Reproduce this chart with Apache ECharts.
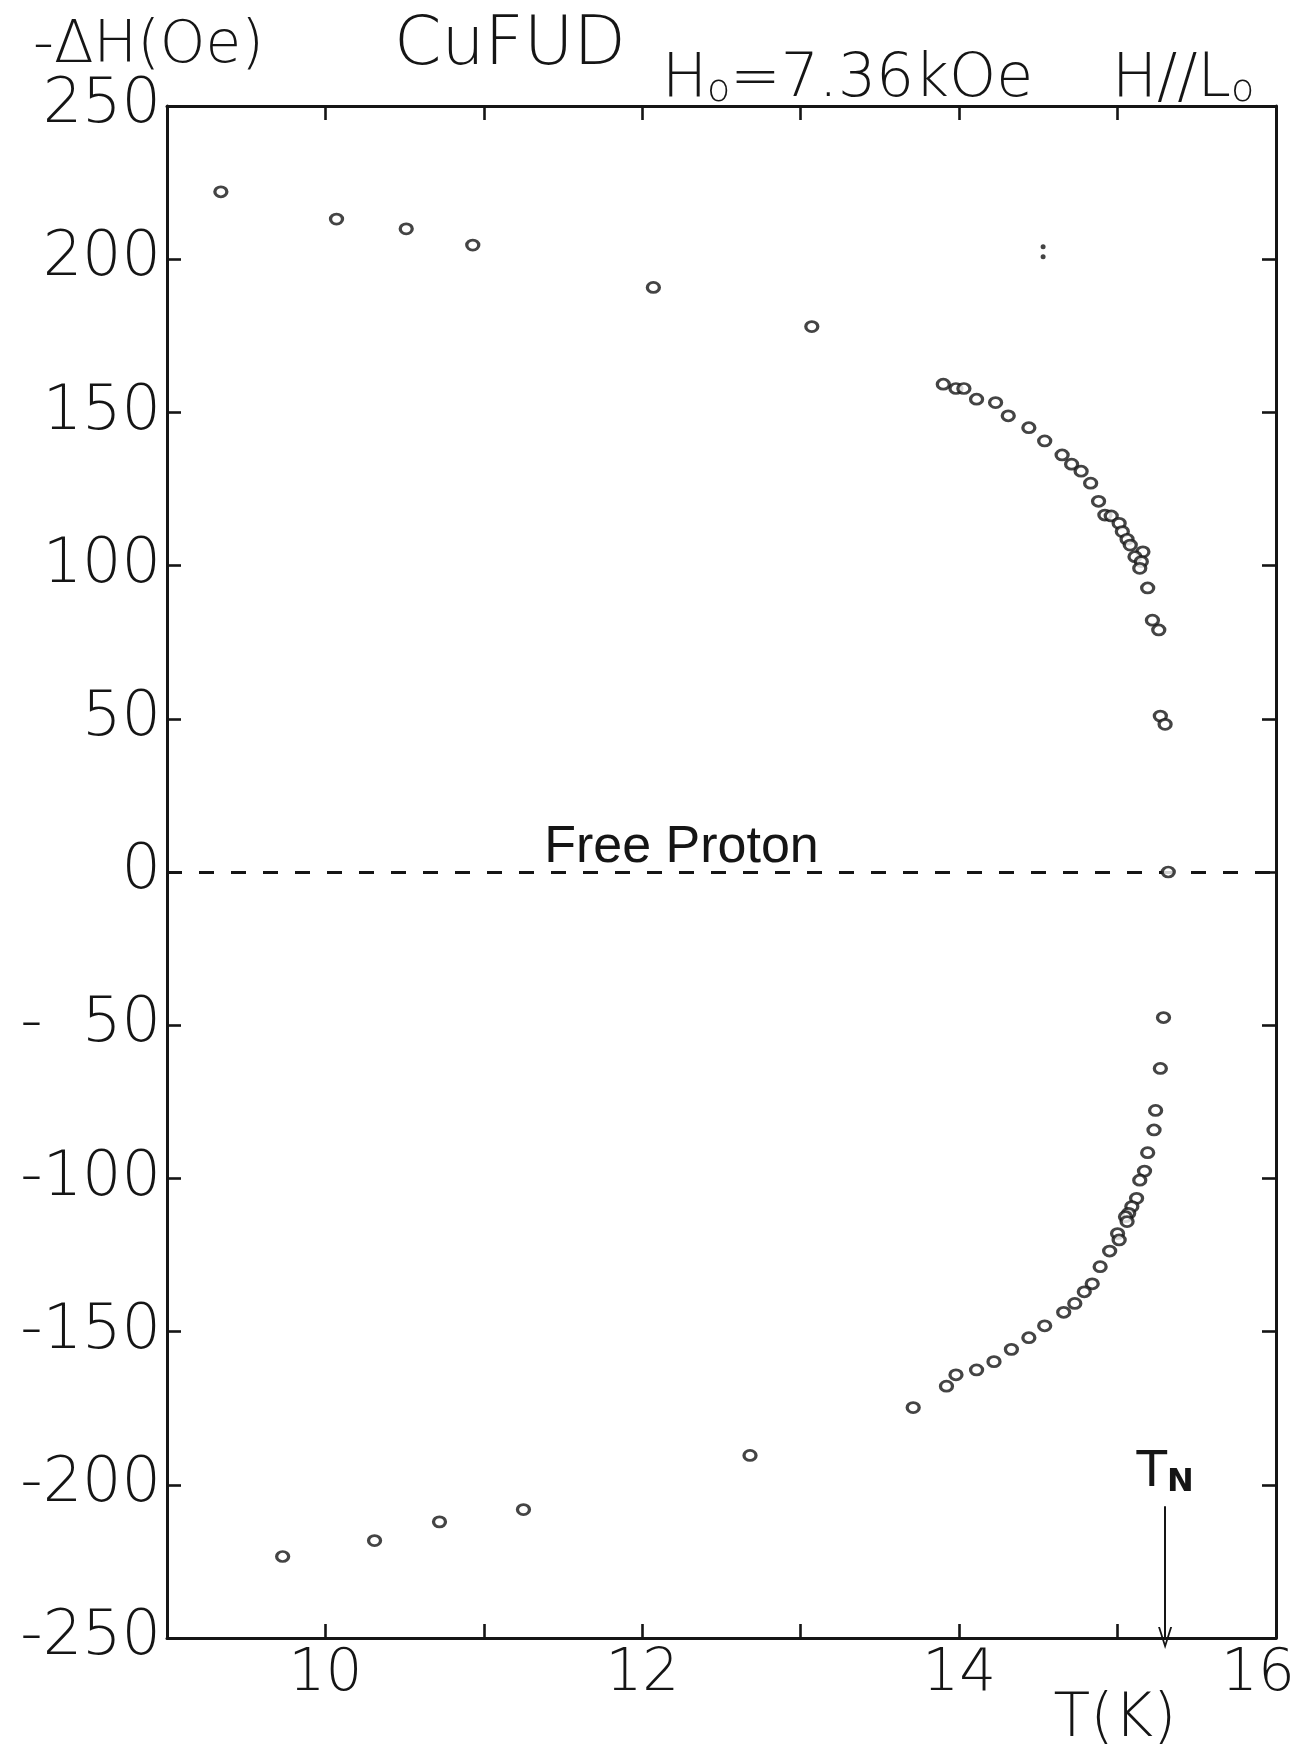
<!DOCTYPE html>
<html>
<head>
<meta charset="utf-8">
<title>CuFUD -ΔH vs T</title>
<script src="https://cdn.jsdelivr.net/npm/echarts@6/dist/echarts.min.js"></script>
<style>
html, body { margin: 0; padding: 0; background: #fff; }
#chart { width: 1306px; height: 1747px; }
</style>
</head>
<body>
<div id="chart"></div>
<script>
// branch above the free proton line: T (K), -dH (Oe)
let upperT = [9.34, 10.07, 10.51, 10.93, 12.07, 13.07, 13.90, 13.98, 14.03, 14.11,
    14.23, 14.31, 14.44, 14.54, 14.65, 14.71, 14.77, 14.83, 14.88, 14.92,
    14.96, 15.01, 15.03, 15.06, 15.08, 15.16, 15.11, 15.15, 15.14, 15.19,
    15.22, 15.26, 15.27, 15.30];
let upperH = [222.0, 213.1, 209.9, 204.6, 190.8, 178.0, 159.2, 157.8, 157.8, 154.3,
    153.2, 148.9, 145.0, 140.7, 136.1, 133.1, 130.8, 126.9, 121.0, 116.5,
    116.2, 113.8, 111.1, 108.6, 106.7, 104.5, 102.9, 101.3, 99.1, 92.7,
    82.2, 79.0, 50.9, 48.2];

// branch below
let lowerT = [15.29, 15.27, 15.24, 15.23, 15.19, 15.17, 15.14, 15.12, 15.09, 15.07,
    15.05, 15.06, 15.00, 15.01, 14.95, 14.89, 14.84, 14.79, 14.73, 14.66,
    14.54, 14.44, 14.33, 14.22, 14.11, 13.98, 13.92, 13.71, 12.68, 11.25,
    10.72, 10.31, 9.73];
let lowerH = [-47.5, -64.1, -77.8, -84.2, -91.6, -97.6, -100.6, -106.5, -109.2, -111.4,
    -112.5, -114.1, -118.0, -120.1, -123.7, -128.8, -134.4, -137.0, -140.8, -143.7,
    -148.1, -152.0, -155.8, -159.8, -162.5, -164.1, -167.8, -174.8, -190.4, -208.1,
    -212.1, -218.2, -223.4];

// point sitting on the free proton line
let freeT = [15.32];
let freeH = [0];

// the two small filled dots near 14.5 K
let dotT = [14.53, 14.53];
let dotH = [204.1, 200.8];

let tN = 15.30;
let arrowFromH = -207;

let xTicks = [9, 10, 11, 12, 13, 14, 15, 16];
let xTickText = ['', '10', '', '12', '', '14', '', '{e|16}'];
let yTicks = [-250, -200, -150, -100, -50, 0, 50, 100, 150, 200, 250];
let yTickText = ['-250', '-200', '-150', '-100', '-  50', '0', '50', '100', '150', '200', '250'];

const INK = '#151515';
const FONT = 'DejaVu Sans';

function zip(a, b) {
    let out = [];
    for (let i = 0; i < a.length; i++) out.push([a[i], b[i]]);
    return out;
}

let circleStyle = {
    color: '#fff',
    borderColor: INK,
    borderWidth: 3
};
let circleSize = [12, 10];

let chevron = 'path://M0,10 L6,0 L12,10 L10.4,10 L6,2.6 L1.6,10 Z';

function xAxisCfg(pos) {
    return {
        type: 'value',
        position: pos,
        min: 9,
        max: 16,
        interval: 1,
        axisLine: { show: true, onZero: false, lineStyle: { color: INK, width: 3 } },
        axisTick: { show: true, inside: true, length: 14, lineStyle: { color: INK, width: 2.6 } },
        splitLine: { show: false },
        axisLabel: {
            show: pos === 'bottom',
            margin: 8,
            color: INK,
            fontFamily: FONT,
            fontWeight: 200,
            fontSize: 58,
            showMinLabel: true,
            showMaxLabel: true,
            rich: {
                e: { fontFamily: FONT, fontWeight: 200, fontSize: 58, color: INK, padding: [0, 36, 0, 0] }
            },
            formatter: v => xTickText[xTicks.indexOf(v)] || ''
        }
    };
}

function yAxisCfg(pos) {
    return {
        type: 'value',
        position: pos,
        min: -250,
        max: 250,
        interval: 50,
        axisLine: { show: true, onZero: false, lineStyle: { color: INK, width: 3 } },
        axisTick: { show: true, inside: true, length: 14, lineStyle: { color: INK, width: 2.6 } },
        splitLine: { show: false },
        axisLabel: {
            show: pos === 'left',
            margin: 6,
            color: INK,
            fontFamily: FONT,
            fontWeight: 200,
            fontSize: 62,
            showMinLabel: true,
            showMaxLabel: true,
            formatter: v => {
                let i = yTicks.indexOf(v);
                return i < 0 ? '' : yTickText[i];
            }
        }
    };
}

let subRich = {
    a: { fontFamily: FONT, fontWeight: 200, fontSize: 60, color: INK },
    b: { fontFamily: FONT, fontWeight: 200, fontSize: 38, color: INK, verticalAlign: 'bottom' }
};

let option = {
    backgroundColor: '#fff',
    animation: false,
    grid: { left: 167, right: 30, top: 106, bottom: 109, outerBoundsMode: 'none', containLabel: false },
    xAxis: [xAxisCfg('bottom'), xAxisCfg('top')],
    yAxis: [yAxisCfg('left'), yAxisCfg('right')],
    graphic: [{
        type: 'text', x: 33, y: 47,
        style: { text: '-ΔH(Oe)', font: '200 58px "DejaVu Sans"', fill: INK, textVerticalAlign: 'middle' }
    }, {
        type: 'text', x: 394, y: 46,
        style: { text: 'CuFUD', font: '200 68px "DejaVu Sans"', fill: INK, textVerticalAlign: 'middle' }
    }, {
        type: 'text', x: 662, y: 50,
        style: { text: '{a|H}{b|o}{a|=7.36kOe}', fill: INK, rich: subRich }
    }, {
        type: 'text', x: 1112, y: 50,
        style: { text: '{a|H//L}{b|o}', fill: INK, rich: subRich }
    }, {
        type: 'text', x: 1115, y: 1720,
        style: { text: 'T(K)', font: '200 60px "DejaVu Sans"', fill: INK, textAlign: 'center', textVerticalAlign: 'middle' }
    }],
    series: [{
        name: 'free proton',
        type: 'scatter',
        data: zip(freeT, freeH),
        symbol: 'circle',
        symbolSize: circleSize,
        itemStyle: circleStyle,
        z: 5,
        markLine: {
            silent: true,
            symbol: 'none',
            lineStyle: { color: INK, width: 2.8, type: [15, 17] },
            label: {
                show: true,
                position: 'insideMiddleTop',
                offset: [-40, 0],
                distance: -2,
                formatter: 'Free Proton',
                color: INK,
                fontFamily: 'Liberation Sans',
                fontSize: 52
            },
            data: [{ yAxis: 0 }]
        }
    }, {
        name: 'upper',
        type: 'scatter',
        data: zip(upperT, upperH),
        symbol: 'circle',
        symbolSize: circleSize,
        itemStyle: circleStyle,
        z: 5
    }, {
        name: 'lower',
        type: 'scatter',
        data: zip(lowerT, lowerH),
        symbol: 'circle',
        symbolSize: circleSize,
        itemStyle: circleStyle,
        z: 5,
        markLine: {
            silent: true,
            symbol: ['none', chevron],
            symbolSize: [14, 22],
            lineStyle: { color: INK, width: 2, type: 'solid' },
            label: {
                show: true,
                position: 'start',
                distance: 8,
                formatter: '{t|T}{n|N}',
                rich: {
                    t: { fontFamily: FONT, fontSize: 50, color: INK },
                    n: { fontFamily: FONT, fontSize: 32, color: INK, fontWeight: 'bold', verticalAlign: 'bottom' }
                }
            },
            data: [[{ coord: [tN, arrowFromH] }, { coord: [tN, -250] }]]
        }
    }, {
        name: 'dots',
        type: 'scatter',
        data: zip(dotT, dotH),
        symbol: 'circle',
        symbolSize: 5,
        itemStyle: { color: INK },
        z: 5
    }]
};

echarts.init(document.getElementById('chart')).setOption(option);
</script>
</body>
</html>
